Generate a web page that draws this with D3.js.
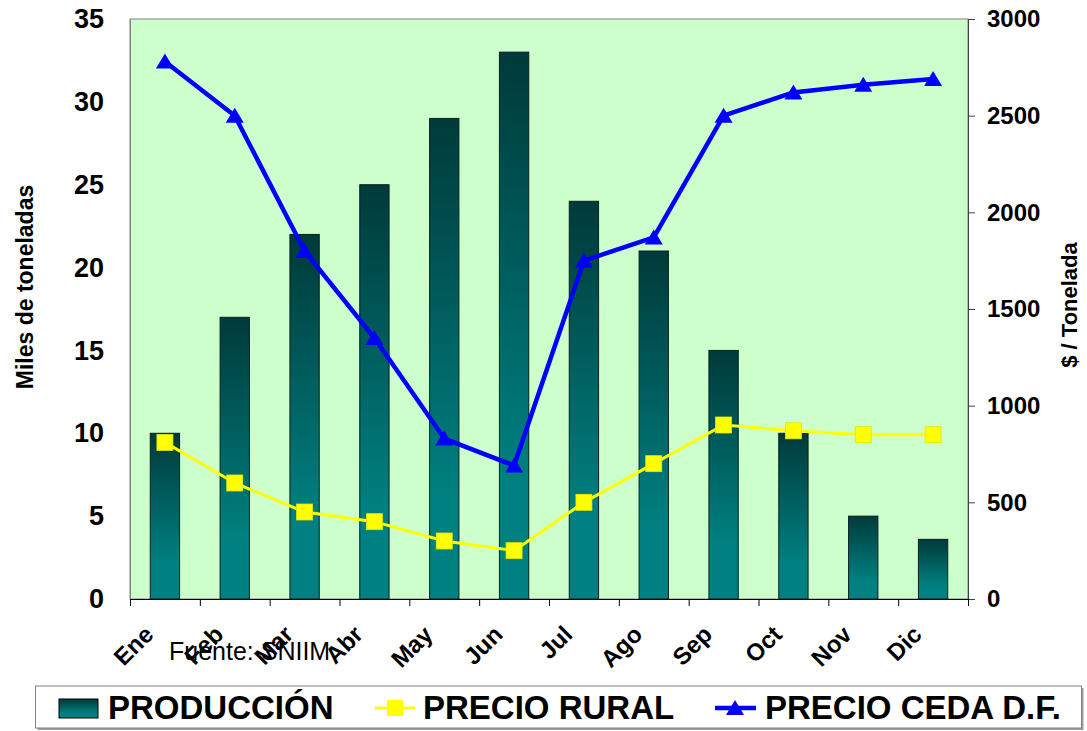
<!DOCTYPE html>
<html lang="es">
<head>
	<meta charset="utf-8">
	<script src="https://d3js.org/d3.v7.min.js"></script>
	<style type="text/css">
		body {
			margin: 0;
			background: #ffffff;
			font-family: Arial, "Liberation Sans", sans-serif;
		}
		.axis text {
			font-family: Arial, "Liberation Sans", sans-serif;
			font-weight: bold;
			fill: #000;
		}
	</style>
</head>
<body>
	<script type="text/javascript">
	var width = 1087;
	var height = 731;

	// Datos
	var meses = ["Ene", "Feb", "Mar", "Abr", "May", "Jun", "Jul", "Ago", "Sep", "Oct", "Nov", "Dic"];
	var produccion = [10, 17, 22, 25, 29, 33, 24, 21, 15, 10, 5, 3.6];          // miles de toneladas
	var precioRural = [810, 600, 450, 400, 300, 250, 500, 700, 900, 870, 850, 850]; // $ / tonelada
	var precioCeda = [2780, 2500, 1800, 1350, 830, 690, 1750, 1870, 2500, 2620, 2660, 2690];
	var ticksIzq = [0, 5, 10, 15, 20, 25, 30, 35];
	var ticksDer = [0, 500, 1000, 1500, 2000, 2500, 3000];
	var leyenda = ["PRODUCCIÓN", "PRECIO RURAL", "PRECIO CEDA D.F."];

	// area del grafico
	var pLeft = 130, pRight = 968, pTop = 19, pBottom = 599;

	var svg = d3.select("body")
				.append("svg")
				.attr("width", width)
				.attr("height", height);

	var defs = svg.append("defs");
	var grad = defs.append("linearGradient")
				.attr("id", "barGrad")
				.attr("x1", 0).attr("y1", 0)
				.attr("x2", 0).attr("y2", 1);
	grad.append("stop").attr("offset", "0%").attr("stop-color", "#003a3a");
	grad.append("stop").attr("offset", "78%").attr("stop-color", "#008080");
	grad.append("stop").attr("offset", "100%").attr("stop-color", "#008080");

	var x = d3.scaleBand()
			  .domain(meses)
			  .range([pLeft, pRight])
			  .paddingInner(0);

	var xIdx = d3.scaleLinear()
			  .domain([0, meses.length])
			  .range([pLeft, pRight]);

	var yL = d3.scaleLinear().domain([0, 35]).range([pBottom, pTop]);
	var yR = d3.scaleLinear().domain([0, 3000]).range([pBottom, pTop]);

	// fondo del area
	svg.append("rect")
		.attr("x", pLeft)
		.attr("y", pTop)
		.attr("width", pRight - pLeft)
		.attr("height", pBottom - pTop)
		.style("fill", "#ccffcc")
		.style("stroke", "#808080")
		.style("stroke-width", 1);

	// barras
	var barW = x.bandwidth() * 0.42;
	svg.selectAll("rect.bar")
		.data(produccion)
		.enter()
		.append("rect")
		.attr("class", "bar")
		.attr("x", function(d, i) { return x(meses[i]) + x.bandwidth() / 2 - barW / 2; })
		.attr("y", function(d) { return yL(d); })
		.attr("width", barW)
		.attr("height", function(d) { return pBottom - yL(d); })
		.style("fill", "url(#barGrad)")
		.style("stroke", "#0b1f1f")
		.style("stroke-width", 1);

	var cx = function(d, i) { return x(meses[i]) + x.bandwidth() / 2; };

	// linea precio rural
	var lineR = d3.line()
				.x(cx)
				.y(function(d) { return yR(d); });

	svg.append("path")
		.datum(precioRural)
		.attr("d", lineR)
		.style("fill", "none")
		.style("stroke", "#ffff00")
		.style("stroke-width", 3);

	svg.selectAll("rect.rural")
		.data(precioRural)
		.enter()
		.append("rect")
		.attr("class", "rural")
		.attr("x", function(d, i) { return cx(d, i) - 8; })
		.attr("y", function(d) { return yR(d) - 8; })
		.attr("width", 16)
		.attr("height", 16)
		.style("fill", "#ffff00")
		.style("stroke", "#e6e600")
		.style("stroke-width", 0.8);

	// linea precio ceda
	svg.append("path")
		.datum(precioCeda)
		.attr("d", lineR)
		.style("fill", "none")
		.style("stroke", "#0000ff")
		.style("stroke-width", 4.5)
		.style("stroke-linejoin", "round");

	var tri = "M0,-8L9,7L-9,7Z";
	svg.selectAll("path.ceda")
		.data(precioCeda)
		.enter()
		.append("path")
		.attr("class", "ceda")
		.attr("d", tri)
		.attr("transform", function(d, i) { return "translate(" + cx(d, i) + "," + yR(d) + ")"; })
		.style("fill", "#0000ff");

	// ejes
	var axL = svg.append("g")
				.attr("class", "axis")
				.attr("transform", "translate(" + pLeft + ",0)")
				.call(d3.axisLeft(yL).tickValues(ticksIzq).tickSize(0).tickPadding(26));
	axL.select(".domain").style("stroke", "#808080");
	axL.selectAll("text").style("font-size", "27px");

	var axR = svg.append("g")
				.attr("class", "axis")
				.attr("transform", "translate(" + pRight + ",0)")
				.call(d3.axisRight(yR).tickValues(ticksDer).tickSize(7).tickPadding(12).tickFormat(d3.format("d")));
	axR.select(".domain").style("stroke", "#404040");
	axR.selectAll("line").style("stroke", "#404040");
	axR.selectAll("text").style("font-size", "24px");

	var axB = svg.append("g")
				.attr("class", "axis")
				.attr("transform", "translate(0," + pBottom + ")")
				.call(d3.axisBottom(xIdx).ticks(meses.length).tickSize(7).tickFormat(""));
	axB.select(".domain").style("stroke", "#000");

	// etiquetas de meses
	svg.selectAll("text.mes")
		.data(meses)
		.enter()
		.append("text")
		.attr("class", "mes")
		.attr("transform", function(d) { return "translate(" + (x(d) + x.bandwidth() / 2 - 10) + ",636) rotate(-45)"; })
		.attr("text-anchor", "end")
		.style("font-size", "24px")
		.style("font-weight", "bold")
		.text(function(d) { return d; });

	// titulos de ejes
	svg.append("text")
		.attr("transform", "translate(33,287) rotate(-90)")
		.attr("text-anchor", "middle")
		.style("font-size", "23px")
		.style("font-weight", "bold")
		.text("Miles de toneladas");

	svg.append("text")
		.attr("transform", "translate(1077,305) rotate(-90)")
		.attr("text-anchor", "middle")
		.style("font-size", "22px")
		.style("font-weight", "bold")
		.text("$ / Tonelada");

	// fuente
	svg.append("text")
		.attr("x", 169)
		.attr("y", 660)
		.style("font-size", "25px")
		.text("Fuente: SNIIM");

	// leyenda
	var leg = svg.append("g");
	leg.append("rect")
		.attr("x", 37.5).attr("y", 688)
		.attr("width", 1046).attr("height", 42)
		.style("fill", "#a0a0a0");
	leg.append("rect")
		.attr("x", 35.5).attr("y", 686)
		.attr("width", 1046).attr("height", 42)
		.style("fill", "#ffffff")
		.style("stroke", "#808080")
		.style("stroke-width", 1);

	leg.append("rect")
		.attr("x", 59).attr("y", 699)
		.attr("width", 39).attr("height", 19)
		.style("fill", "url(#barGrad)")
		.style("stroke", "#000")
		.style("stroke-width", 1);

	leg.append("line")
		.attr("x1", 375).attr("x2", 415)
		.attr("y1", 708).attr("y2", 708)
		.style("stroke", "#ffff00").style("stroke-width", 3);
	leg.append("rect")
		.attr("x", 387).attr("y", 700)
		.attr("width", 16).attr("height", 16)
		.style("fill", "#ffff00");

	leg.append("line")
		.attr("x1", 715).attr("x2", 756)
		.attr("y1", 708).attr("y2", 708)
		.style("stroke", "#0000ff").style("stroke-width", 4.5);
	leg.append("path")
		.attr("d", tri)
		.attr("transform", "translate(735,708)")
		.style("fill", "#0000ff");

	var legX = [108, 423, 765];
	leg.selectAll("text")
		.data(leyenda)
		.enter()
		.append("text")
		.attr("x", function(d, i) { return legX[i]; })
		.attr("y", 719)
		.style("font-size", "33px")
		.style("font-weight", "bold")
		.text(function(d) { return d; });
	</script>
</body>
</html>
